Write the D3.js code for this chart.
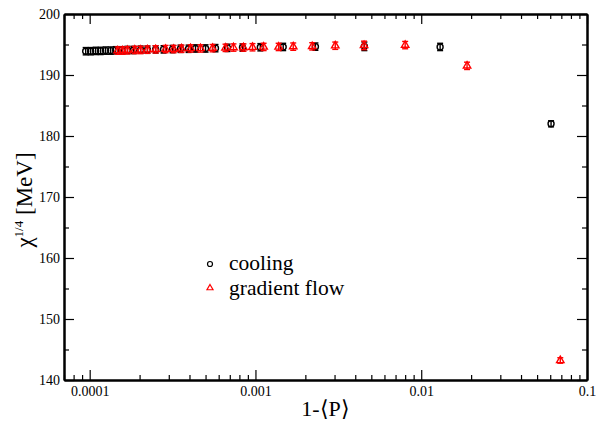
<!DOCTYPE html>
<html>
<head>
<meta charset="utf-8">
<script src="https://cdn.jsdelivr.net/npm/d3@7/dist/d3.min.js"></script>
<style>
  html, body { margin: 0; padding: 0; background: #fff; }
  svg { display: block; }
  svg text { font-family: "Liberation Serif", "Times New Roman", Times, serif; }
</style>
</head>
<body>
<svg id="chart" width="596" height="421"></svg>
<script>
// ---- data ----
const coolingX = [9.46e-5, 1.014e-4, 1.087e-4, 1.165e-4, 1.248e-4, 1.339e-4, 1.435e-4, 1.56e-4, 1.69e-4, 1.84e-4,
                  2.03e-4, 2.23e-4, 2.50e-4, 2.79e-4, 3.16e-4, 3.53e-4, 3.95e-4, 4.35e-4, 5.0e-4, 5.74e-4,
                  6.78e-4, 8.35e-4, 1.07e-3, 1.47e-3, 2.30e-3, 4.54e-3, 1.30e-2, 6.07e-2];
const coolingY = [193.9, 193.9, 193.95, 193.95, 194.0, 194.0, 194.05, 194.05, 194.1, 194.1,
                  194.15, 194.15, 194.2, 194.2, 194.25, 194.3, 194.3, 194.35, 194.35, 194.4,
                  194.45, 194.5, 194.55, 194.6, 194.65, 194.7, 194.6, 182.0];
const coolingErr = [0.6, 0.6, 0.6, 0.6, 0.6, 0.6, 0.6, 0.6, 0.6, 0.6,
                    0.6, 0.6, 0.6, 0.6, 0.6, 0.6, 0.6, 0.6, 0.6, 0.6,
                    0.6, 0.6, 0.6, 0.6, 0.6, 0.7, 0.6, 0.5];
const flowX = [1.476e-4, 1.58e-4, 1.69e-4, 1.87e-4, 2.03e-4, 2.23e-4, 2.50e-4, 2.87e-4, 3.21e-4, 3.58e-4,
               4.06e-4, 4.66e-4, 5.51e-4, 6.60e-4, 7.37e-4, 8.47e-4, 9.60e-4, 1.12e-3, 1.38e-3, 1.69e-3,
               2.20e-3, 3.03e-3, 4.52e-3, 8.0e-3, 1.89e-2, 6.9e-2];
const flowY = [194.0, 194.0, 194.05, 194.1, 194.1, 194.15, 194.2, 194.25, 194.25, 194.3,
               194.35, 194.35, 194.4, 194.45, 194.5, 194.5, 194.55, 194.6, 194.6, 194.65,
               194.7, 194.8, 194.85, 194.9, 191.5, 143.2];
const flowErr = [0.6, 0.6, 0.6, 0.6, 0.6, 0.6, 0.6, 0.6, 0.6, 0.6,
                 0.6, 0.6, 0.6, 0.6, 0.6, 0.6, 0.6, 0.6, 0.6, 0.6,
                 0.6, 0.6, 0.7, 0.6, 0.6, 0.45];
const xMajorTicks = [1e-4, 1e-3, 1e-2, 1e-1];
const xTickLabels = ["0.0001", "0.001", "0.01", "0.1"];
const yMajorTicks = [140, 150, 160, 170, 180, 190, 200];
const yMinorTicks = [145, 155, 165, 175, 185, 195];
const seriesNames = ["cooling", "gradient flow"];

// ---- layout ----
const FONT = "'Liberation Serif', 'Times New Roman', Times, serif";
const L = 64, R = 587, T = 14, B = 380;
const svg = d3.select("#chart");
const x = d3.scaleLog().domain([7e-5, 0.1]).range([L, R]);
const y = d3.scaleLinear().domain([140, 200]).range([B, T]);

const xMinor = [];
[-5, -4, -3, -2].forEach(e => { for (let m = 2; m <= 9; m++) { const v = m * Math.pow(10, e); if (v >= 7e-5 && v < 0.1) xMinor.push(v); } });

function styleAxis(g) {
  g.attr("font-family", null);
  g.selectAll("path.domain").attr("stroke", "#000").attr("stroke-width", 2);
  g.selectAll(".tick line").attr("stroke", "#000").attr("stroke-width", 1.2);
  g.selectAll("text").style("font-family", FONT).attr("font-size", 14).attr("fill", "#000");
}

// bottom
svg.append("g").attr("transform", `translate(0,${B})`)
  .call(d3.axisBottom(x).tickValues(xMajorTicks).tickSizeInner(-10).tickSizeOuter(0).tickPadding(6)
        .tickFormat((d, i) => xTickLabels[i]))
  .call(styleAxis);
svg.append("g").attr("transform", `translate(0,${B})`)
  .call(d3.axisBottom(x).tickValues(xMinor).tickSizeInner(-5).tickSizeOuter(0).tickFormat(""))
  .call(styleAxis);
// top
svg.append("g").attr("transform", `translate(0,${T})`)
  .call(d3.axisTop(x).tickValues(xMajorTicks).tickSizeInner(-10).tickSizeOuter(0).tickFormat(""))
  .call(styleAxis);
svg.append("g").attr("transform", `translate(0,${T})`)
  .call(d3.axisTop(x).tickValues(xMinor).tickSizeInner(-5).tickSizeOuter(0).tickFormat(""))
  .call(styleAxis);
// left
svg.append("g").attr("transform", `translate(${L},0)`)
  .call(d3.axisLeft(y).tickValues(yMajorTicks).tickSizeInner(-10).tickSizeOuter(0).tickPadding(4).tickFormat(d3.format("d")))
  .call(styleAxis);
svg.append("g").attr("transform", `translate(${L},0)`)
  .call(d3.axisLeft(y).tickValues(yMinorTicks).tickSizeInner(-5).tickSizeOuter(0).tickFormat(""))
  .call(styleAxis);
// right
svg.append("g").attr("transform", `translate(${R},0)`)
  .call(d3.axisRight(y).tickValues(yMajorTicks).tickSizeInner(-10).tickSizeOuter(0).tickFormat(""))
  .call(styleAxis);
svg.append("g").attr("transform", `translate(${R},0)`)
  .call(d3.axisRight(y).tickValues(yMinorTicks).tickSizeInner(-5).tickSizeOuter(0).tickFormat(""))
  .call(styleAxis);

// axis titles
svg.append("text").attr("x", (L + R) / 2).attr("y", 416).attr("text-anchor", "middle")
  .style("font-family", FONT).attr("font-size", 22).text("1-\u27E8P\u27E9");
const yl = svg.append("text").attr("transform", `translate(32,${(T + B) / 2 + 3}) rotate(-90)`)
  .attr("text-anchor", "middle").style("font-family", FONT).attr("font-size", 23);
yl.append("tspan").text("\u03C7");
yl.append("tspan").attr("font-size", 13).attr("dy", -9).text("1/4");
yl.append("tspan").attr("dy", 9).text(" [MeV]");

// data
const cooling = coolingX.map((v, i) => ({ x: v, y: coolingY[i], e: coolingErr[i] }));
const flow = flowX.map((v, i) => ({ x: v, y: flowY[i], e: flowErr[i] }));
const cap = 3;

function errBars(data, color) {
  const g = svg.append("g").attr("stroke", color).attr("stroke-width", 1.4).attr("fill", "none");
  data.forEach(d => {
    const cx = x(d.x), y1 = y(d.y - d.e), y2 = y(d.y + d.e);
    g.append("line").attr("x1", cx).attr("x2", cx).attr("y1", y1).attr("y2", y2);
    g.append("line").attr("x1", cx - cap).attr("x2", cx + cap).attr("y1", y1).attr("y2", y1);
    g.append("line").attr("x1", cx - cap).attr("x2", cx + cap).attr("y1", y2).attr("y2", y2);
  });
}
errBars(cooling, "#000");
svg.append("g").selectAll("circle").data(cooling).join("circle")
  .attr("cx", d => x(d.x)).attr("cy", d => y(d.y)).attr("r", 3)
  .attr("fill", "none").attr("stroke", "#000").attr("stroke-width", 1.4);

errBars(flow, "#ff0000");
const tri = d3.symbol().type(d3.symbolTriangle).size(24);
svg.append("g").selectAll("path").data(flow).join("path")
  .attr("transform", d => `translate(${x(d.x)},${y(d.y)})`).attr("d", tri)
  .attr("fill", "none").attr("stroke", "#ff0000").attr("stroke-width", 1.4);

// legend
const lg = svg.append("g");
lg.append("circle").attr("cx", 210).attr("cy", 264).attr("r", 2.5)
  .attr("fill", "none").attr("stroke", "#000").attr("stroke-width", 1.2);
lg.append("text").attr("x", 229).attr("y", 270).style("font-family", FONT).attr("font-size", 21.5).text(seriesNames[0]);
lg.append("path").attr("transform", "translate(210,288)").attr("d", d3.symbol().type(d3.symbolTriangle).size(16))
  .attr("fill", "none").attr("stroke", "#ff0000").attr("stroke-width", 1.2);
lg.append("text").attr("x", 229).attr("y", 295).style("font-family", FONT).attr("font-size", 21.5).text(seriesNames[1]);
</script>
</body>
</html>
